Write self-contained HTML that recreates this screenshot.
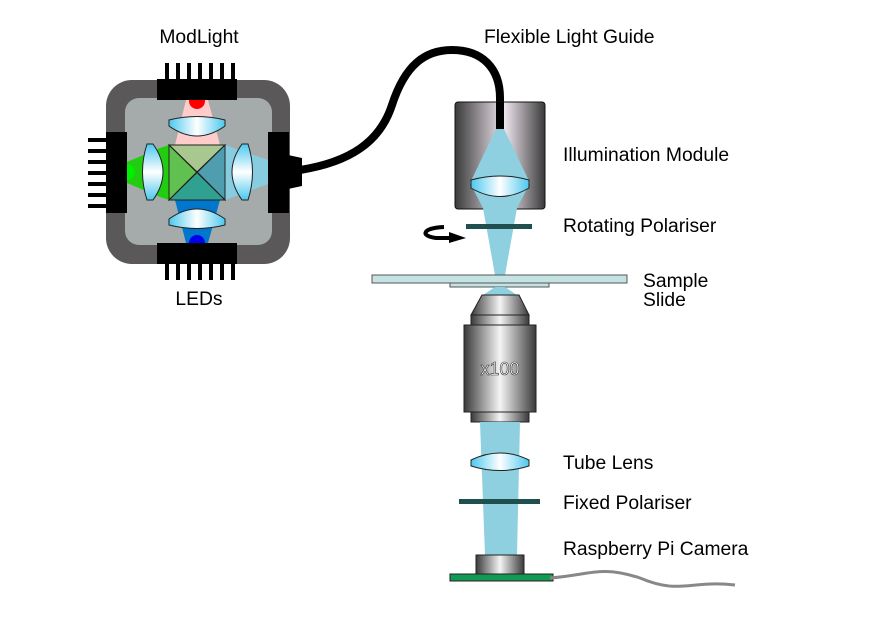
<!DOCTYPE html>
<html><head><style>body{margin:0;background:#fff}svg{display:block}text{font-family:"Liberation Sans",sans-serif;font-size:19.3px;fill:#000}</style></head><body>
<svg width="880" height="632" viewBox="0 0 880 632" xmlns="http://www.w3.org/2000/svg">
<defs>
<linearGradient id="lens" x1="0" x2="1"><stop offset="0" stop-color="#4cc8ee"/><stop offset="0.5" stop-color="#fff"/><stop offset="1" stop-color="#4cc8ee"/></linearGradient>
<linearGradient id="lensv" x1="0" x2="0" y1="0" y2="1"><stop offset="0" stop-color="#4cc8ee"/><stop offset="0.5" stop-color="#fff"/><stop offset="1" stop-color="#4cc8ee"/></linearGradient>
<linearGradient id="metal" x1="0" x2="1"><stop offset="0" stop-color="#3a3a3a"/><stop offset="0.5" stop-color="#f4f4f4"/><stop offset="1" stop-color="#3a3a3a"/></linearGradient>
<linearGradient id="mod" x1="0" x2="1"><stop offset="0" stop-color="#3a3a3a"/><stop offset="0.55" stop-color="#eee6ee"/><stop offset="1" stop-color="#3a3a3a"/></linearGradient>
</defs>
<g fill="#000">
<rect x="165" y="63" width="4" height="20"/><rect x="176" y="63" width="4" height="20"/><rect x="187" y="63" width="4" height="20"/><rect x="198" y="63" width="4" height="20"/><rect x="209" y="63" width="4" height="20"/><rect x="220" y="63" width="4" height="20"/><rect x="231" y="63" width="4" height="20"/>
<rect x="165" y="260" width="4" height="20"/><rect x="176" y="260" width="4" height="20"/><rect x="187" y="260" width="4" height="20"/><rect x="198" y="260" width="4" height="20"/><rect x="209" y="260" width="4" height="20"/><rect x="220" y="260" width="4" height="20"/><rect x="231" y="260" width="4" height="20"/>
<rect x="88" y="138" width="20" height="4"/><rect x="88" y="149" width="20" height="4"/><rect x="88" y="160" width="20" height="4"/><rect x="88" y="171" width="20" height="4"/><rect x="88" y="182" width="20" height="4"/><rect x="88" y="193" width="20" height="4"/><rect x="88" y="204" width="20" height="4"/>
</g>
<rect x="106" y="80" width="184" height="184" rx="26" fill="#5a5858"/>
<rect x="125" y="98" width="147" height="147" rx="14" fill="#a5abab"/>
<polygon points="186,100 208,100 220,145 175,145" fill="#ffcccc"/>
<polygon points="175,200 220,200 208,243 186,243" fill="#0077cc"/>
<polygon points="127,162 160,148 169,145 169,200 160,197 127,183" fill="#22cc11"/>
<polygon points="225,145 268,160 268,184 225,200" fill="#88cce0"/>
<circle cx="197" cy="101" r="8" fill="#ff0000"/>
<circle cx="197" cy="243" r="8" fill="#0000ee"/>
<circle cx="127" cy="172" r="8" fill="#00ee00"/>
<rect x="157" y="79" width="80" height="21" fill="#000"/>
<rect x="157" y="243" width="80" height="21" fill="#000"/>
<rect x="106" y="132" width="21" height="81" fill="#000"/>
<rect x="268" y="132" width="21" height="81" fill="#000"/>
<polygon points="288,155 302,158 302,186 288,189" fill="#000"/>
<g stroke="#222" stroke-width="1">
<polygon points="169,145 225,145 197,172" fill="#a8c890"/>
<polygon points="169,145 197,172 169,200" fill="#60c050"/>
<polygon points="225,145 225,200 197,172" fill="#4e9eb0"/>
<polygon points="169,200 225,200 197,172" fill="#30a090"/>
<rect x="169" y="145" width="56" height="55" fill="none"/>
<line x1="169" y1="145" x2="225" y2="200"/><line x1="225" y1="145" x2="169" y2="200"/>
<path d="M169,120 Q197,113 225,120 L225,126 Q197,146 169,126 Z" fill="url(#lens)"/>
<path d="M169,219 Q197,199 225,219 L225,225 Q197,232 169,225 Z" fill="url(#lens)"/>
<path d="M147,144 Q138,172 147,200 L153,200 Q173,172 153,144 Z" fill="url(#lensv)"/>
<path d="M242,144 Q222,172 242,200 L248,200 Q257,172 248,144 Z" fill="url(#lensv)"/>
</g>
<path d="M300,170 C350,162 380,142 392,105 C405,65 425,50 452,50 C482,50 500,68 500,98 L500,110" fill="none" stroke="#000" stroke-width="8"/>
<rect x="455" y="102" width="90" height="107" rx="3" fill="url(#mod)" stroke="#111"/>
<rect x="496" y="102" width="8" height="27" fill="#000"/>
<polygon points="496,129 504,129 530,183 517,208 505,275 495,275 483,208 470,183" fill="#8ecfe0"/>
<path d="M471,180 Q500,172 529,180 L529,188 Q500,205 471,188 Z" fill="url(#lens)" stroke="#222"/>
<rect x="466" y="224" width="66" height="5" fill="#1f4f4f"/>
<path d="M444,227 C422,228 420,236 436,238 L452,238" fill="none" stroke="#000" stroke-width="4"/>
<polygon points="449,232 466,238 449,243" fill="#000"/>
<rect x="372" y="275" width="255" height="8" fill="#c5e3e3" stroke="#555"/>
<rect x="450" y="283" width="99" height="4" fill="#c5e3e3" stroke="#555"/>
<polygon points="495,287 505,287 520,297 480,297" fill="#8ecfe0"/>
<polygon points="482,295 519,295 529,315 471,315" fill="url(#metal)" stroke="#222"/>
<rect x="471" y="315" width="58" height="10" fill="url(#metal)" stroke="#222"/>
<rect x="464" y="325" width="72" height="87" fill="url(#metal)" stroke="#222"/>
<rect x="471" y="412" width="58" height="10" fill="url(#metal)" stroke="#222"/>
<text x="500" y="375" text-anchor="middle" style="fill:#fff;stroke:#333;stroke-width:0.6;font-size:18px">x100</text>
<polygon points="480,422 520,422 517,555 485,555" fill="#8ecfe0"/>
<path d="M471,460 Q500,446 529,460 L529,466 Q500,475 471,466 Z" fill="url(#lens)" stroke="#222"/>
<rect x="459" y="499" width="81" height="5" fill="#1f4f4f"/>
<rect x="476" y="555" width="48" height="19" fill="url(#metal)" stroke="#222"/>
<rect x="450" y="574" width="103" height="7" fill="#119955" stroke="#222"/>
<path d="M550,578 C590,575 600,565 640,578 C680,595 690,580 735,585" fill="none" stroke="#888" stroke-width="3"/>
<text x="199" y="43" text-anchor="middle">ModLight</text>
<text x="199" y="305" text-anchor="middle">LEDs</text>
<text x="484" y="43">Flexible Light Guide</text>
<text x="563" y="161">Illumination Module</text>
<text x="563" y="232">Rotating Polariser</text>
<text x="643" y="287">Sample</text>
<text x="643" y="306">Slide</text>
<text x="563" y="469">Tube Lens</text>
<text x="563" y="509">Fixed Polariser</text>
<text x="563" y="555">Raspberry Pi Camera</text>
</svg>
</body></html>
